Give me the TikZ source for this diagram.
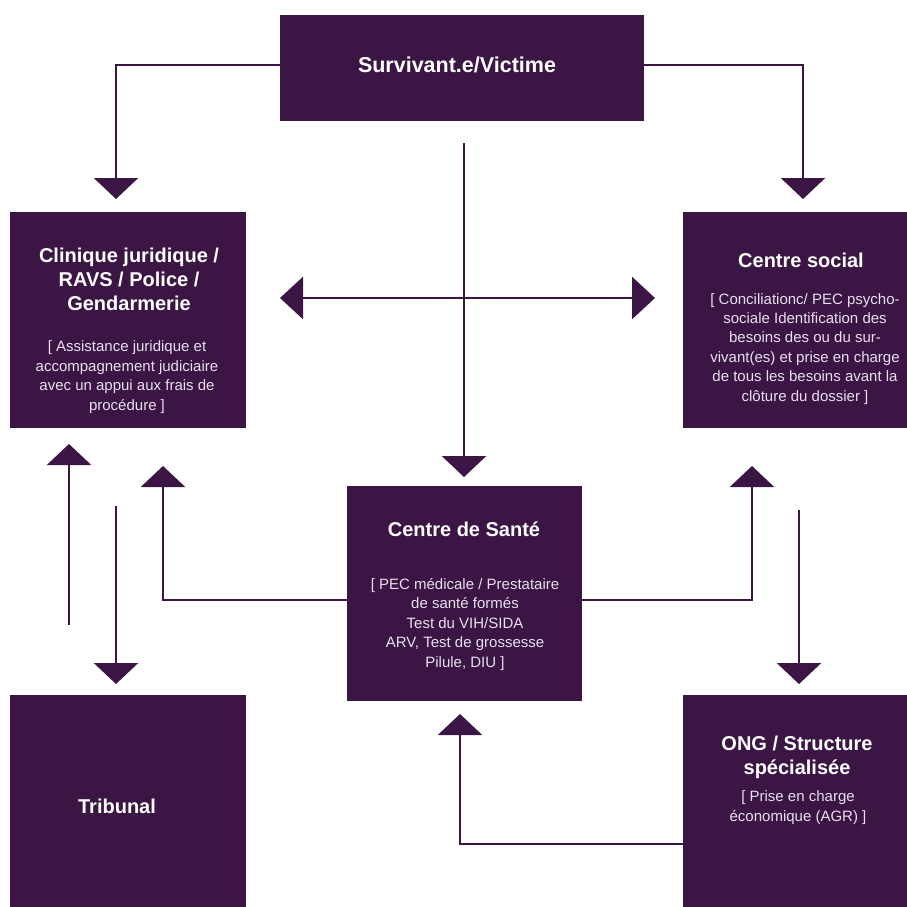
\documentclass[tikz,border=0pt]{standalone}
\usepackage{fontspec}
\setmainfont{Liberation Sans}
\usetikzlibrary{arrows.meta}
\definecolor{plum}{HTML}{3B1543}
\definecolor{subtxt}{HTML}{E9DFEE}
\begin{document}
\begin{tikzpicture}[x=1pt,y=-1pt,
  box/.style={fill=plum,draw=none,inner sep=0pt,rectangle},
  ttl/.style={text=white,align=center,anchor=base,inner sep=0pt,font=\fontsize{20}{24}\selectfont\bfseries},
  sub/.style={text=subtxt,align=center,anchor=base,inner sep=0pt,font=\fontsize{15}{19.4}\selectfont},
  conn/.style={draw=plum,line width=2.7pt},
  arr/.style={conn,-{Triangle[length=21pt,width=44pt]}},
  darr/.style={conn,{Triangle[length=23pt,width=42pt]}-{Triangle[length=23pt,width=42pt]}}]
\useasboundingbox (0,0) rectangle (907,906);
% boxes
\node[box,minimum width=364pt,minimum height=106pt] (top) at (462,68) {};
\node[box,minimum width=236pt,minimum height=216pt] (clin) at (128,320) {};
\node[box,minimum width=236pt,minimum height=216pt] (soc) at (801,320) {};
\node[box,minimum width=235pt,minimum height=215pt] (sante) at (464.5,593.5) {};
\node[box,minimum width=236pt,minimum height=216pt] (trib) at (128,803) {};
\node[box,minimum width=236pt,minimum height=216pt] (ong) at (801,803) {};
% texts (anchor base = baseline of the last line)
\node[ttl,font=\fontsize{21.5}{24}\selectfont\bfseries] (topT) at (457,72) {Survivant.e/Victime};
\node[ttl] (clinT) at (129,310) {Clinique juridique /\\RAVS / Police /\\Gendarmerie};
\node[sub] (clinS) at (127,410) {[ Assistance juridique et\\accompagnement judiciaire\\avec un appui aux frais de\\procédure ]};
\node[ttl] (socT) at (801,267) {Centre social};
\node[sub] (socS) at (805,401) {[ Conciliationc/ PEC psycho-\\sociale Identification des\\besoins des ou du sur-\\vivant(es) et prise en charge\\de tous les besoins avant la\\clôture du dossier ]};
\node[ttl] (santeT) at (464,536) {Centre de Santé};
\node[sub] (santeS) at (465,667) {[ PEC médicale / Prestataire\\de santé formés\\Test du VIH/SIDA\\ARV, Test de grossesse\\Pilule, DIU ]};
\node[ttl] (tribT) at (117,813) {Tribunal};
\node[ttl] (ongT) at (797,774) {ONG / Structure\\spécialisée};
\node[sub] (ongS) at (798,821) {[ Prise en charge\\économique (AGR) ]};
% coordinates
\coordinate (tipClin) at (116,199);
\coordinate (tipSoc) at (803,199);
\coordinate (vStart) at (464,143);
\coordinate (vTip) at (464,477);
\coordinate (hLeft) at (280,298);
\coordinate (hRight) at (655,298);
\coordinate (upStart) at (69,625);
\coordinate (upTip) at (69,444);
\coordinate (dnStart) at (116,506);
\coordinate (dnTip) at (116,684);
\coordinate (slTip) at (163,466);
\coordinate (srTip) at (752,466);
\coordinate (sdStart) at (799,510);
\coordinate (sdTip) at (799,684);
\coordinate (ongTip) at (460,714);
% connectors
\draw[arr] ([yshift=3pt]top.west) -| (tipClin);
\draw[arr] ([yshift=3pt]top.east) -| (tipSoc);
\draw[arr] (vStart) -- (vTip);
\draw[darr] (hLeft) -- (hRight);
\draw[arr] (upStart) -- (upTip);
\draw[arr] (dnStart) -- (dnTip);
\draw[arr] ([yshift=-6.5pt]sante.west) -| (slTip);
\draw[arr] ([yshift=-6.5pt]sante.east) -| (srTip);
\draw[arr] (sdStart) -- (sdTip);
\draw[arr] ([yshift=-41pt]ong.west) -| (ongTip);
\end{tikzpicture}
\end{document}
